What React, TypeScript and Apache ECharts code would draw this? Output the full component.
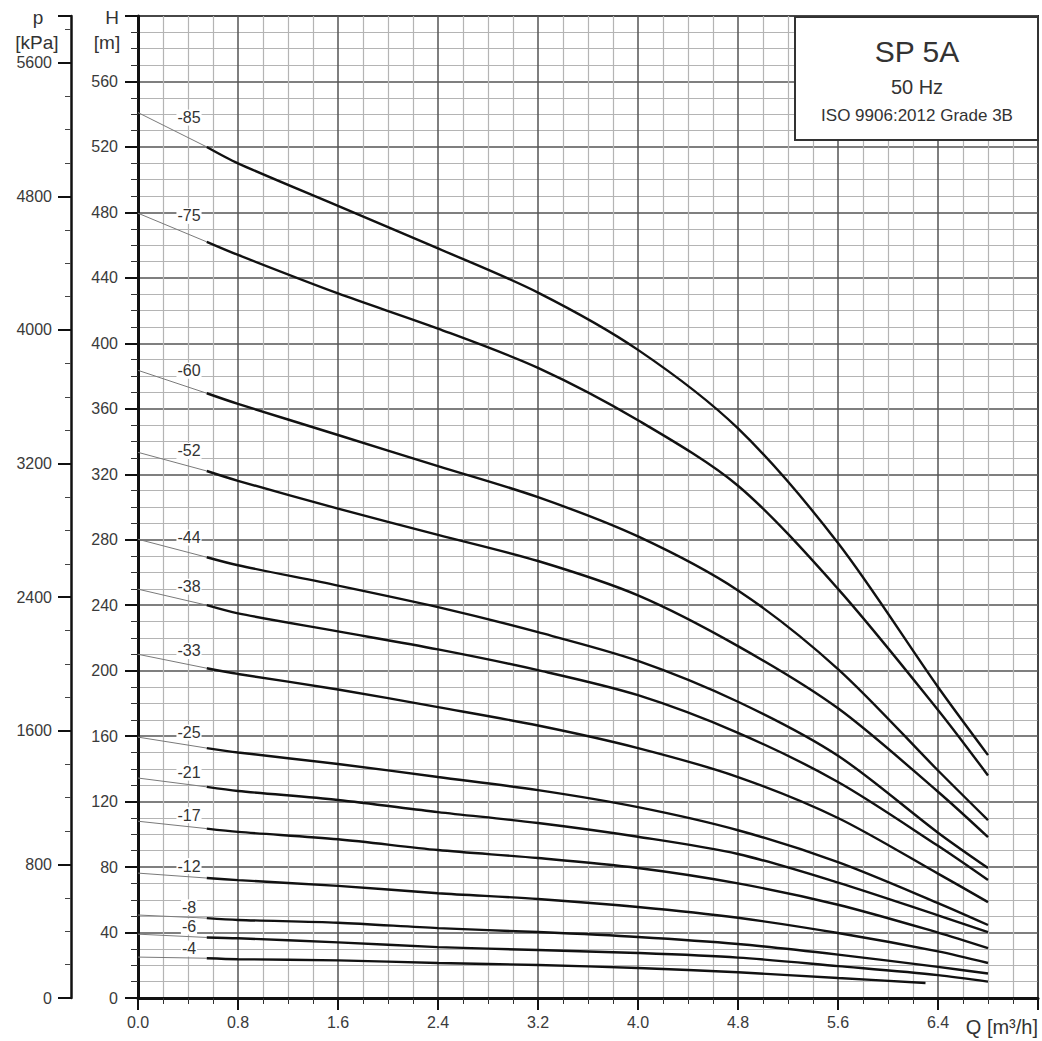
import React, { useEffect, useRef } from "react";
import * as echarts from "echarts";

// Flow rates (m³/h) at which the curves were read
const qFull = [0, 0.55, 0.8, 1.6, 2.4, 3.2, 4.0, 4.8, 5.6, 6.4, 6.8];
const qShort = [0, 0.55, 0.8, 1.6, 2.4, 3.2, 4.0, 4.8, 5.6, 6.3];

// Head (m) per stage count
const head85 = [541, 520, 510, 484, 458, 431, 396, 348, 278, 190, 148.4];
const head75 = [479.5, 462, 454, 430.5, 409, 385, 353, 313, 250, 176, 136];
const head60 = [383.5, 369.5, 363, 344, 325, 306, 282, 249, 201, 139, 108.7];
const head52 = [333.4, 322, 316, 299, 283, 267, 246, 215, 177, 126, 98.3];
const head44 = [280.3, 269.3, 264.4, 252, 238.8, 223.5, 206, 181, 148, 101, 79.4];
const head38 = [249.8, 240, 235, 224, 213, 200.3, 185, 162, 132, 93, 72.1];
const head33 = [210, 201.5, 198, 188.5, 177.7, 166.5, 152.7, 135, 110, 76, 58.6];
const head25 = [159.4, 152.7, 150, 143, 135, 127, 116.6, 102.5, 83, 58, 44.6];
const head21 = [134.4, 129, 126.5, 121, 113.6, 106.9, 98.5, 88, 70.5, 50.5, 40.3];
const head17 = [108, 103.5, 101.5, 97, 90.4, 85.5, 79.4, 70, 57, 40, 30.5];
const head12 = [76.3, 73.3, 72, 68.5, 64, 60.5, 55.6, 49, 39.7, 28.5, 21.4];
const head8 = [50.7, 48.8, 47.7, 46, 42.7, 40.3, 37.3, 33, 26.5, 19, 15];
const head6 = [39, 37, 36.5, 34, 31.1, 29.3, 27.5, 24.7, 19.5, 14, 10];
const head4 = [25, 24.3, 23.7, 23, 21.4, 20.2, 18.3, 15.7, 12.2, 9.2];

const curveLabels = ["-85", "-75", "-60", "-52", "-44", "-38", "-33", "-25", "-21", "-17", "-12", "-8", "-6", "-4"];
const curveHeads = [head85, head75, head60, head52, head44, head38, head33, head25, head21, head17, head12, head8, head6, head4];
const curveQs = [qFull, qFull, qFull, qFull, qFull, qFull, qFull, qFull, qFull, qFull, qFull, qFull, qFull, qShort];

const titleLines = ["SP 5A", "50 Hz", "ISO 9906:2012 Grade 3B"];

const FONT = "'Liberation Sans', Arial, sans-serif";
const LABEL_COLOR = "#3a3a3a";

export default function App() {
  const ref = useRef<HTMLDivElement>(null);

  useEffect(() => {
    if (!ref.current) return;
    const chart = echarts.init(ref.current, undefined, { renderer: "svg" });

    const series: any[] = [];
    curveLabels.forEach((lab, i) => {
      const q = curveQs[i];
      const h = curveHeads[i];
      series.push({
        type: "line",
        name: lab + " lead",
        data: q.slice(0, 2).map((x, k) => [x, h[k]]),
        symbol: "none",
        silent: true,
        z: 3,
        lineStyle: { color: "#7a7a7a", width: 1 },
      });
      series.push({
        type: "line",
        name: lab,
        data: q.slice(1).map((x, k) => [x, h[k + 1]]),
        symbol: "none",
        smooth: 0.3,
        silent: true,
        z: 4,
        lineStyle: { color: "#111", width: 2.4 },
      });
    });

    const option: any = {
      animation: false,
      backgroundColor: "#fff",
      textStyle: { fontFamily: FONT },
      grid: {
        left: 138,
        right: 4,
        top: 16,
        bottom: 43,
        show: true,
        borderColor: "#222",
        borderWidth: 2,
        backgroundColor: "transparent",
      },
      xAxis: {
        type: "value",
        min: 0,
        max: 7.2,
        interval: 0.8,
        axisLine: { show: true, onZero: false, lineStyle: { color: "#111", width: 3 } },
        axisTick: { show: true, length: 12, lineStyle: { color: "#111", width: 2 } },
        minorTick: { show: true, splitNumber: 4, length: 6, lineStyle: { color: "#333", width: 1 } },
        axisLabel: {
          margin: 16,
          fontSize: 16,
          color: LABEL_COLOR,
          fontFamily: FONT,
          formatter: (v: number) => (v > 7.1 ? "" : v.toFixed(1)),
        },
        splitLine: { show: true, lineStyle: { color: "#555", width: 1.5 } },
        minorSplitLine: { show: true, lineStyle: { color: "#b4b4b4", width: 1.2 } },
      },
      yAxis: [
        {
          type: "value",
          min: 0,
          max: 600,
          interval: 40,
          position: "left",
          axisLine: { show: true, onZero: false, lineStyle: { color: "#111", width: 3 } },
          axisTick: { show: true, length: 13, lineStyle: { color: "#111", width: 2 } },
          minorTick: { show: true, splitNumber: 4, length: 7, lineStyle: { color: "#333", width: 1 } },
          axisLabel: {
            margin: 20,
            fontSize: 16,
            color: LABEL_COLOR,
            fontFamily: FONT,
            formatter: (v: number) => (v >= 600 ? "" : String(v)),
          },
          splitLine: { show: true, lineStyle: { color: "#555", width: 1.5 } },
          minorSplitLine: { show: true, lineStyle: { color: "#b4b4b4", width: 1.2 } },
        },
        {
          type: "value",
          min: 0,
          max: 5880,
          interval: 800,
          position: "left",
          offset: 67,
          axisLine: { show: true, onZero: false, lineStyle: { color: "#111", width: 2.5 } },
          axisTick: { show: true, length: 13, lineStyle: { color: "#111", width: 2 } },
          minorTick: { show: true, splitNumber: 4, length: 6, lineStyle: { color: "#444", width: 1 } },
          axisLabel: {
            margin: 19,
            fontSize: 16,
            color: LABEL_COLOR,
            fontFamily: FONT,
            formatter: (v: number) => (v % 800 === 0 ? String(v) : ""),
          },
          splitLine: { show: false },
          minorSplitLine: { show: false },
        },
      ],
      series,
    };

    chart.setOption(option);

    // curve labels placed near the start of each curve
    const labelGraphics = curveLabels.map((lab, i) => {
      const q = curveQs[i];
      const h = curveHeads[i];
      const p0 = chart.convertToPixel({ seriesIndex: i * 2 }, [q[0], h[0]]) as number[];
      const p1 = chart.convertToPixel({ seriesIndex: i * 2 }, [q[1], h[1]]) as number[];
      const slope = (p1[1] - p0[1]) / (p1[0] - p0[0]);
      const dx = 51;
      const yCurve = p0[1] + slope * dx;
      return {
        type: "text",
        x: p0[0] + dx,
        y: yCurve - 9 - 23 * slope,
        z: 50,
        style: {
          text: lab,
          fontSize: 16,
          fontFamily: FONT,
          fill: "#333",
          align: "center",
          verticalAlign: "middle",
          backgroundColor: "#fff",
          padding: [0, 1],
        },
      };
    });

    const headerText = (text: string, x: number, y: number, size: number, align = "center") => ({
      type: "text",
      x,
      y,
      z: 120,
      style: {
        text,
        fontSize: size,
        fontFamily: FONT,
        fill: "#333",
        align,
        verticalAlign: "middle",
      },
    });

    chart.setOption({
      graphic: [
        ...labelGraphics,
        {
          type: "rect",
          z: 100,
          shape: { x: 795, y: 17, width: 243, height: 123 },
          style: { fill: "#fff", stroke: "#333", lineWidth: 2 },
        },
        headerText(titleLines[0], 917, 51, 30),
        headerText(titleLines[1], 917, 87, 20),
        headerText(titleLines[2], 917, 115, 17),
        headerText("p", 38, 17, 19),
        headerText("[kPa]", 37, 42, 19),
        headerText("H", 112, 17, 19),
        headerText("[m]", 107, 42, 19),
        headerText("Q [m³/h]", 1038, 1027, 20, "right"),
      ],
    });

    return () => {
      chart.dispose();
    };
  }, []);

  return (
    <div
      ref={ref}
      style={{ position: "absolute", left: 0, top: 0, width: 1042, height: 1041, background: "#fff" }}
    />
  );
}
